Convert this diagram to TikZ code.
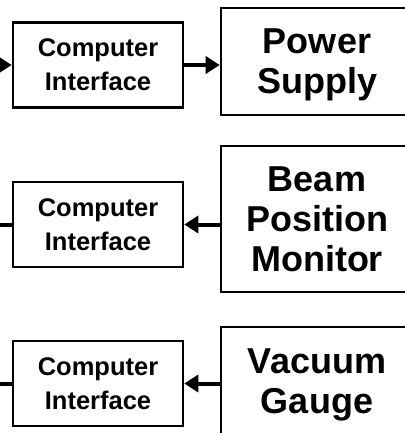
\documentclass[tikz,border=0pt]{standalone}
\usepackage{fontspec}
\setmainfont{Liberation Sans}
\usepackage{tikz}
\usetikzlibrary{arrows.meta, positioning, calc}
\tikzset{
  iface/.style={draw, line width=2.6pt, align=center, minimum width=170pt, minimum height=85pt, inner sep=0pt,
    text depth=-6pt, font=\fontsize{25.5}{34}\selectfont\bfseries},
  device/.style={draw, line width=2.6pt, align=center, minimum width=192pt, inner sep=0pt, text depth=0pt,
    font=\fontsize{36}{40}\selectfont\bfseries},
  arrow/.style={-{Triangle[length=14pt, width=17pt]}, line width=4pt},
  link/.style={line width=4pt}
}
\begin{document}
\begin{tikzpicture}[x=1pt, y=-1pt]
    \useasboundingbox (0,0) rectangle (404,433);

    % power supply row
    \node[iface] (ci1) at (98,65) {Computer\\Interface};
    \node[device, minimum height=107pt] (ps) at (317,61.5) {Power\\Supply};
    \coordinate (in1) at (-30,65);

    % beam position monitor row
    \node[iface] (ci2) at (98,224.5) {Computer\\Interface};
    \node[device, minimum height=146pt, text depth=-10pt] (bpm) at (317,219) {Beam\\Position\\Monitor};
    \coordinate (out2) at (-30,224.5);

    % vacuum gauge row
    \node[iface] (ci3) at (98,383.5) {Computer\\Interface};
    \node[device, minimum height=109pt] (vg) at (317,381.5) {Vacuum\\Gauge};
    \coordinate (out3) at (-30,383.5);

    \draw[arrow] (in1) -- (ci1.west);
    \draw[arrow] (ci1.east) -- (ci1.east -| ps.west);
    \draw[arrow] (ci2.east -| bpm.west) -- (ci2.east);
    \draw[link] (ci2.west) -- (out2);
    \draw[arrow] (ci3.east -| vg.west) -- (ci3.east);
    \draw[link] (ci3.west) -- (out3);
\end{tikzpicture}
\end{document}
